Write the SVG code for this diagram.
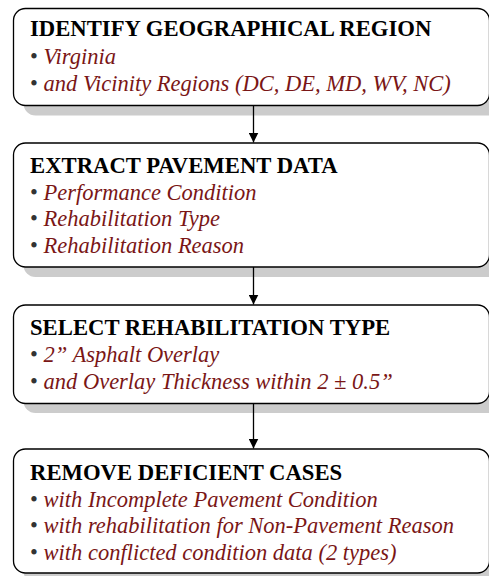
<svg xmlns="http://www.w3.org/2000/svg" width="489" height="576" viewBox="0 0 489 576">
<defs>
<style>
.shadow{fill:#cccccc;stroke:none}
.box{fill:#ffffff;stroke:#000000;stroke-width:1.3}
.title{font-family:"Liberation Serif","Times New Roman",serif;font-weight:bold;font-size:22.7px;fill:#000000}
.item{font-family:"Liberation Serif","Times New Roman",serif;font-style:italic;font-size:22.5px;fill:#7a1616}
.bul{font-style:normal;fill:#333333}
.conn{stroke:#000000;stroke-width:1.3;fill:none}
</style>
<marker id="arrow" viewBox="0 0 10 10" refX="10" refY="5" markerWidth="10" markerHeight="10" markerUnits="userSpaceOnUse" orient="auto">
<path d="M0,0 L10,5 L0,10 Z" fill="#000000"/>
</marker>
</defs>
<g id="node1">
<rect class="shadow" x="23.5" y="18.5" width="476" height="97" rx="12"/>
<rect class="box" x="13.5" y="8.5" width="476" height="97" rx="12"/>
<text class="title" x="30" y="36">IDENTIFY GEOGRAPHICAL REGION</text>
<text class="item" x="30" y="64"><tspan class="bul">• </tspan>Virginia</text>
<text class="item" x="30" y="91"><tspan class="bul">• </tspan>and Vicinity Regions (DC, DE, MD, WV, NC)</text>
</g>
<g id="node2">
<rect class="shadow" x="23.5" y="153" width="476" height="124" rx="12"/>
<rect class="box" x="13.5" y="143" width="476" height="124" rx="12"/>
<text class="title" x="30" y="173">EXTRACT PAVEMENT DATA</text>
<text class="item" x="30" y="200"><tspan class="bul">• </tspan>Performance Condition</text>
<text class="item" x="30" y="226"><tspan class="bul">• </tspan>Rehabilitation Type</text>
<text class="item" x="30" y="253"><tspan class="bul">• </tspan>Rehabilitation Reason</text>
</g>
<g id="node3">
<rect class="shadow" x="23.5" y="315" width="476" height="98" rx="12"/>
<rect class="box" x="13.5" y="305" width="476" height="98.5" rx="12"/>
<text class="title" x="30" y="335">SELECT REHABILITATION TYPE</text>
<text class="item" x="30" y="362"><tspan class="bul">• </tspan>2” Asphalt Overlay</text>
<text class="item" x="30" y="389"><tspan class="bul">• </tspan>and Overlay Thickness within 2 ± 0.5”</text>
</g>
<g id="node4">
<rect class="shadow" x="23.5" y="459" width="476" height="124" rx="12"/>
<rect class="box" x="13.5" y="449" width="476" height="124" rx="12"/>
<text class="title" x="30" y="480">REMOVE DEFICIENT CASES</text>
<text class="item" x="30" y="507"><tspan class="bul">• </tspan>with Incomplete Pavement Condition</text>
<text class="item" x="30" y="533"><tspan class="bul">• </tspan>with rehabilitation for Non-Pavement Reason</text>
<text class="item" x="30" y="560"><tspan class="bul">• </tspan>with conflicted condition data (2 types)</text>
</g>
<g id="connectors">
<line class="conn" x1="253.5" y1="105.5" x2="253.5" y2="142.5" marker-end="url(#arrow)"/>
<line class="conn" x1="253.5" y1="267" x2="253.5" y2="304.5" marker-end="url(#arrow)"/>
<line class="conn" x1="253.5" y1="403.5" x2="253.5" y2="448.5" marker-end="url(#arrow)"/>
</g>
</svg>
